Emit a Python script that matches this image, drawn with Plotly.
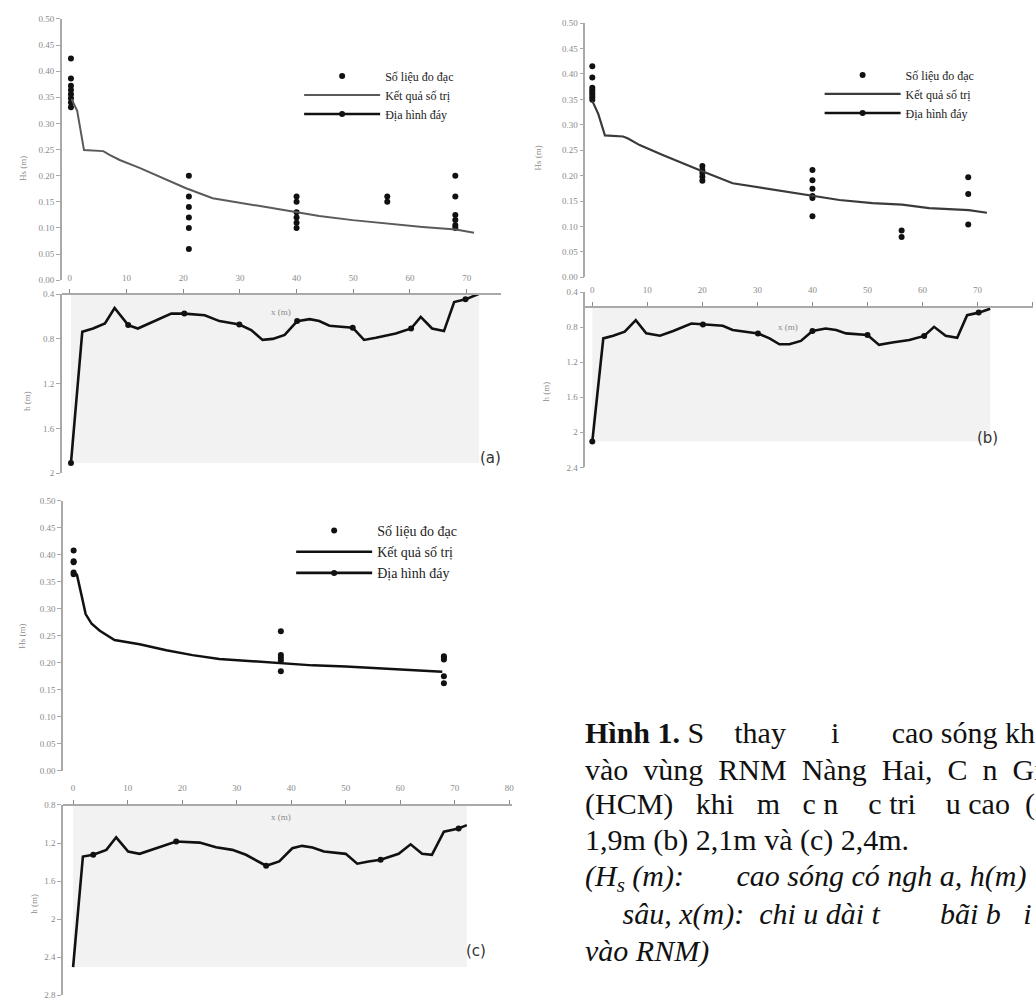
import plotly.graph_objects as go

W, H = 1036, 1008

# ---------------- Panel (a) : water level 1.9 m ----------------
a_meas_x = [0.2, 0.2, 0.2, 0.2, 0.2, 0.2, 0.2, 0.2,
            21, 21, 21, 21, 21, 21,
            40, 40, 40, 40, 40, 40,
            56, 56,
            68, 68, 68, 68, 68, 68]
a_meas_hs = [0.424, 0.386, 0.372, 0.364, 0.356, 0.348, 0.340, 0.331,
             0.20, 0.16, 0.14, 0.12, 0.10, 0.06,
             0.16, 0.15, 0.13, 0.12, 0.11, 0.10,
             0.16, 0.15,
             0.20, 0.16, 0.125, 0.115, 0.105, 0.10]
a_model_x = [0.3, 1.3, 2.5, 5.9, 7.0, 8.8, 12.3, 15.8, 20.5, 25.2, 29.9,
             34.6, 40.1, 44.0, 49.9, 56.0, 62.2, 68.1, 71.3]
a_model_hs = [0.347, 0.324, 0.249, 0.247, 0.240, 0.230, 0.215, 0.199, 0.176,
              0.157, 0.148, 0.140, 0.130, 0.123, 0.115, 0.108, 0.102, 0.097, 0.091]
a_depth_x = [0.2, 2.2, 4.1, 6.2, 7.9, 10.3, 12.0, 14.1, 17.9, 20.2, 23.8, 26.4,
             29.9, 32.0, 34.0, 35.8, 37.9, 40.1, 42.3, 44.0, 45.8, 49.9, 51.9,
             54.0, 57.5, 60.2, 61.9, 63.9, 66.0, 67.8, 69.8, 72.2]
a_depth_h = [1.909, 0.736, 0.707, 0.662, 0.524, 0.677, 0.707, 0.662, 0.574, 0.574,
             0.589, 0.641, 0.671, 0.721, 0.809, 0.800, 0.765, 0.641, 0.624, 0.641,
             0.683, 0.700, 0.809, 0.789, 0.751, 0.707, 0.603, 0.707, 0.730, 0.471,
             0.447, 0.397]
a_mark_x = [0.2, 10.3, 20.2, 29.9, 40.1, 49.9, 60.2, 69.8]

# ---------------- Panel (b) : water level 2.1 m ----------------
b_meas_x = [0, 0, 0, 0, 0, 0, 0, 0,
            20, 20, 20, 20, 20,
            40, 40, 40, 40, 40, 40,
            56.2, 56.2,
            68.3, 68.3, 68.3]
b_meas_hs = [0.415, 0.393, 0.373, 0.368, 0.363, 0.359, 0.354, 0.349,
             0.219, 0.211, 0.205, 0.198, 0.190,
             0.211, 0.191, 0.174, 0.160, 0.156, 0.120,
             0.092, 0.079,
             0.197, 0.164, 0.104]
b_model_x = [0.0, 1.1, 2.3, 5.6, 6.5, 8.6, 12.9, 17.1, 20.1, 25.5, 30.4, 35.2,
             40.0, 44.9, 50.9, 56.3, 61.2, 68.4, 71.7]
b_model_hs = [0.347, 0.321, 0.279, 0.277, 0.273, 0.260, 0.240, 0.221, 0.208,
              0.185, 0.177, 0.169, 0.160, 0.152, 0.146, 0.143, 0.136, 0.132, 0.127]
b_depth_x = [0.0, 2.0, 3.8, 5.9, 7.9, 9.8, 12.3, 14.7, 18.0, 20.1, 23.7, 25.5,
             28.0, 30.1, 32.2, 34.0, 35.8, 37.9, 40.0, 42.4, 44.3, 46.1, 50.0,
             52.1, 54.5, 57.6, 60.3, 62.1, 64.2, 66.3, 68.1, 70.2, 72.3]
b_depth_h = [2.106, 0.928, 0.897, 0.852, 0.720, 0.871, 0.897, 0.844, 0.758, 0.769,
             0.784, 0.833, 0.852, 0.871, 0.928, 0.995, 0.995, 0.957, 0.844, 0.815,
             0.833, 0.871, 0.889, 1.002, 0.976, 0.946, 0.900, 0.796, 0.897, 0.920,
             0.663, 0.634, 0.589]
b_mark_x = [0.0, 20.1, 30.1, 40.0, 50.0, 60.3, 70.2]

# ---------------- Panel (c) : water level 2.4 m ----------------
c_meas_x = [0.1, 0.1, 0.1, 0.1, 0.1,
            38.1, 38.1, 38.1, 38.1, 38.1,
            68.0, 68.0, 68.0, 68.0, 68.0]
c_meas_hs = [0.408, 0.388, 0.386, 0.367, 0.364,
             0.258, 0.214, 0.209, 0.204, 0.184,
             0.212, 0.209, 0.206, 0.175, 0.162]
c_model_x = [0.1, 0.7, 1.5, 2.3, 3.4, 4.9, 7.6, 12.2, 17.1, 21.9, 26.8, 32.9,
             38.1, 43.9, 50.0, 56.1, 62.2, 67.7]
c_model_hs = [0.366, 0.363, 0.327, 0.290, 0.272, 0.259, 0.242, 0.234, 0.223,
              0.214, 0.207, 0.203, 0.200, 0.195, 0.193, 0.190, 0.186, 0.183]
c_depth_x = [0.0, 1.8, 3.7, 6.1, 7.9, 10.1, 12.2, 14.6, 16.5, 18.9, 23.2, 26.2,
             29.2, 31.7, 35.4, 37.8, 40.2, 42.0, 43.9, 46.0, 50.0, 52.1, 54.2,
             56.4, 59.7, 61.9, 64.0, 65.8, 68.0, 70.7, 72.2]
c_depth_h = [2.505, 1.342, 1.324, 1.272, 1.140, 1.290, 1.314, 1.265, 1.230, 1.185,
             1.196, 1.245, 1.272, 1.324, 1.439, 1.394, 1.255, 1.230, 1.248, 1.290,
             1.314, 1.418, 1.394, 1.376, 1.314, 1.214, 1.314, 1.324, 1.081, 1.047,
             1.012]
c_mark_x = [3.7, 18.9, 35.4, 56.4, 70.7]

# ---------------- text ----------------
legend_names = ["Số liệu đo đạc", "Kết quả số trị", "Địa hình đáy"]
hs_title = "Hs (m)"
h_title = "h (m)"
x_title = "x (m)"
panel_tags = ["(a)", "(b)", "(c)"]
NB = "\u00a0"
caption_lines = [
    "<b>Hình 1.</b> S" + NB * 4 + "thay" + NB * 6 + "i" + NB * 7 + "cao sóng kh",
    "vào" + NB * 2 + "vùng" + NB * 2 + "RNM" + NB * 2 + "Nàng" + NB * 2 + "Hai," + NB * 2 + "C" + NB * 2 + "n" + NB * 2 + "Gi",
    "(HCM)" + NB * 3 + "khi" + NB * 3 + "m" + NB * 3 + "c" + NB + "n" + NB * 4 + "c" + NB + "tri" + NB * 4 + "u" + NB + "cao" + NB * 2 + "(a",
    "1,9m (b) 2,1m và (c) 2,4m.",
    "<i>(H<sub>s</sub>" + NB + "(m):" + NB * 7 + "cao sóng có ngh" + NB + "a, h(m)</i>",
    "<i>" + NB * 5 + "sâu, x(m):" + NB * 2 + "chi" + NB + "u dài t" + NB * 8 + "bãi b" + NB * 3 + "i</i>",
    "<i>vào RNM)</i>",
]

# ---------------- layout constants (pixels) ----------------
panels = [
    dict(data=(a_meas_x, a_meas_hs, a_model_x, a_model_hs, a_depth_x, a_depth_h, a_mark_x),
         xpx=(62, 502), xrange=(-1.41, 75.98), top_px=(14, 278), bot_px=(292, 473),
         bot_range=(2.0, 0.4), cross=0.4, model_color="#5a5a5a", model_w=2.0,
         legend_xy=(300, 57), legend_size=12, tag_xy=(492, 458),
         hs_xy=(16, 150), h_xy=(20, 400), xt_xy=(270, 303)),
    dict(data=(b_meas_x, b_meas_hs, b_model_x, b_model_hs, b_depth_x, b_depth_h, b_mark_x),
         xpx=(587, 1036), xrange=(-1.27, 80.07), top_px=(18.3, 275), bot_px=(290, 467),
         bot_range=(2.4, 0.4), cross=0.57, model_color="#3a3a3a", model_w=2.2,
         legend_xy=(822, 56), legend_size=12, tag_xy=(1003, 437),
         hs_xy=(540, 140), h_xy=(548, 390), xt_xy=(802, 318)),
    dict(data=(c_meas_x, c_meas_hs, c_model_x, c_model_hs, c_depth_x, c_depth_h, c_mark_x),
         xpx=(63.3, 513), xrange=(-1.83, 80.4), top_px=(500.7, 773.3), bot_px=(808, 1000),
         bot_range=(2.8, 0.8), cross=0.8, model_color="#111111", model_w=2.5,
         legend_xy=(292, 515), legend_size=14, tag_xy=(477, 967),
         hs_xy=(15, 637), h_xy=(27, 920), xt_xy=(270, 827)),
]


def fx(px):
    return px / W


def fy(px):
    return 1 - px / H


def ref(prefix, n):
    return prefix + ("" if n == 1 else str(n))


AXIS_GRAY = "#a9a9a9"
TICK_FONT = dict(family="Liberation Serif", size=9, color="#8a8a8a")
LABEL_FONT = dict(family="Liberation Serif", size=9, color="#8a8a8a")

fig = go.Figure()
layout = dict(width=W, height=H, margin=dict(l=0, r=0, t=0, b=0),
              paper_bgcolor="white", plot_bgcolor="rgba(0,0,0,0)",
              showlegend=True, annotations=[])

for i, p in enumerate(panels):
    mx, mh, lx, lh, dx, dh, mkx = p["data"]
    nt, nb = 2 * i + 1, 2 * i + 2
    xt, yt, xb, yb = ref("x", nt), ref("y", nt), ref("x", nb), ref("y", nb)
    leg = "legend" if i == 0 else "legend%d" % (i + 1)
    xdom = [fx(p["xpx"][0]), fx(p["xpx"][1])]

    # top panel: wave height
    layout[ref("xaxis", nt)] = dict(domain=xdom, range=list(p["xrange"]), visible=False,
                                    anchor=yt)
    layout[ref("yaxis", nt)] = dict(domain=[fy(p["top_px"][1]), fy(p["top_px"][0])],
                                    range=[0, 0.5], dtick=0.05, tick0=0, tickformat=".2f",
                                    showline=True, linecolor=AXIS_GRAY, linewidth=1.5,
                                    ticks="outside", ticklen=4, tickcolor=AXIS_GRAY,
                                    showgrid=False, zeroline=False, anchor=xt,
                                    tickfont=TICK_FONT)
    # bottom panel: depth (reversed)
    btop, bbot = fy(p["bot_px"][0]), fy(p["bot_px"][1])
    rb, rt = p["bot_range"]
    pos = btop - (p["cross"] - rt) / (rb - rt) * (btop - bbot)
    layout[ref("xaxis", nb)] = dict(domain=xdom, range=list(p["xrange"]), anchor="free",
                                    position=pos, side="top", showline=True,
                                    linecolor=AXIS_GRAY, linewidth=2, ticks="outside",
                                    ticklen=4, tickcolor="#888888", dtick=10, tick0=0,
                                    ticklabelstandoff=5,
                                    showgrid=False, zeroline=False, tickfont=TICK_FONT)
    layout[ref("yaxis", nb)] = dict(domain=[bbot, btop], range=[rb, rt], dtick=0.4,
                                    tick0=0.4, showline=True, linecolor=AXIS_GRAY,
                                    linewidth=1.5, ticks="outside", ticklen=4,
                                    tickcolor=AXIS_GRAY, showgrid=False, zeroline=False,
                                    anchor=xb, tickfont=TICK_FONT)

    # grey bed area
    x0, x1, hmax = min(dx), max(dx), max(dh)
    fig.add_trace(go.Scatter(x=[x0, x1, x1, x0], y=[p["cross"], p["cross"], hmax, hmax],
                             fill="toself", fillcolor="#f2f2f2", mode="lines",
                             line=dict(width=0, color="#f2f2f2"), showlegend=False,
                             hoverinfo="skip", xaxis=xb, yaxis=yb))

    # measured points
    fig.add_trace(go.Scatter(x=mx, y=mh, mode="markers", name=legend_names[0],
                             marker=dict(color="#111111", size=6, symbol="circle"),
                             xaxis=xt, yaxis=yt, legend=leg))
    # numerical result
    fig.add_trace(go.Scatter(x=lx, y=lh, mode="lines", name=legend_names[1],
                             line=dict(color=p["model_color"], width=p["model_w"]),
                             xaxis=xt, yaxis=yt, legend=leg))
    # bed profile
    fig.add_trace(go.Scatter(x=dx, y=dh, mode="lines", showlegend=False,
                             line=dict(color="#111111", width=2.6),
                             xaxis=xb, yaxis=yb))
    mky = [dh[dx.index(v)] for v in mkx]
    fig.add_trace(go.Scatter(x=mkx, y=mky, mode="markers", showlegend=False,
                             marker=dict(color="#111111", size=6),
                             xaxis=xb, yaxis=yb))
    fig.add_trace(go.Scatter(x=[None], y=[None], mode="lines+markers",
                             name=legend_names[2],
                             line=dict(color="#111111", width=2.6),
                             marker=dict(color="#111111", size=6),
                             xaxis=xb, yaxis=yb, legend=leg))

    layout[leg] = dict(x=fx(p["legend_xy"][0]), y=fy(p["legend_xy"][1]),
                       xanchor="left", yanchor="top", bgcolor="rgba(0,0,0,0)",
                       font=dict(family="Liberation Serif", size=p["legend_size"],
                                 color="#222222"),
                       tracegroupgap=0, itemwidth=76, traceorder="normal")

    ann = layout["annotations"]
    ann.append(dict(text=hs_title, x=fx(p["hs_xy"][0]), y=fy(p["hs_xy"][1]),
                    xref="paper", yref="paper", showarrow=False, textangle=-90,
                    font=LABEL_FONT))
    ann.append(dict(text=h_title, x=fx(p["h_xy"][0]), y=fy(p["h_xy"][1]),
                    xref="paper", yref="paper", showarrow=False, textangle=-90,
                    font=LABEL_FONT))
    ann.append(dict(text=x_title, x=fx(p["xt_xy"][0]), y=fy(p["xt_xy"][1]),
                    xref="paper", yref="paper", showarrow=False, font=LABEL_FONT))
    ann.append(dict(text=panel_tags[i], x=fx(p["tag_xy"][0]), y=fy(p["tag_xy"][1]),
                    xref="paper", yref="paper", showarrow=False,
                    font=dict(family="DejaVu Sans", size=15, color="#333333")))

# caption
cap_y = [735, 772, 807, 843, 882, 918, 955]
for txt, yy in zip(caption_lines, cap_y):
    layout["annotations"].append(dict(text=txt, x=fx(585), y=fy(yy), xref="paper",
                                      yref="paper", xanchor="left", yanchor="middle",
                                      showarrow=False, align="left",
                                      font=dict(family="Liberation Serif", size=30,
                                                color="#111111")))

fig.update_layout(**layout)
fig.write_html("out.html", config={"displayModeBar": False},
               post_script="document.body.style.margin='0';document.body.style.overflow='hidden';")
